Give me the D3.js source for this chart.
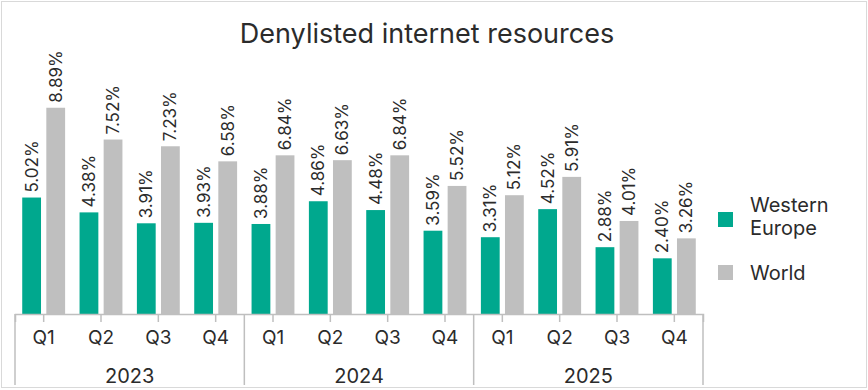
<!DOCTYPE html>
<html lang="en">
<head>
<meta charset="utf-8">
<title>Denylisted internet resources</title>
<script src="https://cdn.jsdelivr.net/npm/d3@7"></script>
<style>
  body { margin: 0; background: #fff; }
  text { font-family: Inter, "Noto Sans", sans-serif; fill: #2b2b2b; }
</style>
</head>
<body>
<script>
// data
var years = ["2023", "2024", "2025"];
var quarters = ["Q1", "Q2", "Q3", "Q4"];
var seriesNames = ["Western Europe", "World"];
var westernEurope = [5.02, 4.38, 3.91, 3.93, 3.88, 4.86, 4.48, 3.59, 3.31, 4.52, 2.88, 2.40];
var world = [8.89, 7.52, 7.23, 6.58, 6.84, 6.63, 6.84, 5.52, 5.12, 5.91, 4.01, 3.26];
var colors = ["#00a88e", "#bfbfbf"];

var W = 868, H = 390;
var svg = d3.select("body").append("svg")
    .attr("width", W)
    .attr("height", H);

// outer frame
svg.append("rect")
    .attr("x", 1.5).attr("y", 1.5)
    .attr("width", W - 3).attr("height", H - 4)
    .attr("fill", "none")
    .attr("stroke", "#d9d9d9");

svg.append("text")
    .attr("x", 427)
    .attr("y", 43)
    .attr("text-anchor", "middle")
    .style("font-size", "27px")
    .text("Denylisted internet resources");

var cats = [];
years.forEach(function(y) {
  quarters.forEach(function(q) { cats.push(y + " " + q); });
});

var rows = cats.map(function(c, i) {
  return { cat: c, q: c.split(" ")[1], vals: [westernEurope[i], world[i]] };
});

var x0 = d3.scaleBand().domain(cats).range([15, 703]);
var x1 = d3.scaleBand().domain([0, 1]).range([0, x0.bandwidth()])
    .paddingInner(0.22).paddingOuter(0.3);
var y = d3.scaleLinear().domain([0, 10]).range([314, 82]);

var g = svg.selectAll("g.cat")
  .data(rows)
  .enter().append("g")
    .attr("class", "cat")
    .attr("transform", function(d) { return "translate(" + x0(d.cat) + ",0)"; });

g.selectAll("rect")
  .data(function(d) { return d.vals; })
  .enter().append("rect")
    .attr("x", function(d, i) { return x1(i); })
    .attr("y", function(d) { return y(d); })
    .attr("width", x1.bandwidth())
    .attr("height", function(d) { return y(0) - y(d); })
    .attr("fill", function(d, i) { return colors[i]; });

g.selectAll("text.val")
  .data(function(d) { return d.vals; })
  .enter().append("text")
    .attr("class", "val")
    .attr("transform", function(d, i) {
      return "translate(" + (x1(i) + x1.bandwidth() / 2) + "," + (y(d) - 5) + ") rotate(-90)";
    })
    .attr("dy", "0.35em")
    .style("font-size", "17px")
    .text(function(d) { return d.toFixed(2) + "%"; });

// axis: quarter ticks at category centres
var xAxis = d3.axisBottom(x0)
    .tickSize(8)
    .tickPadding(6)
    .tickFormat(function(d) { return d.split(" ")[1]; });

var ax = svg.append("g")
    .attr("transform", "translate(0,314)")
    .call(xAxis);
ax.select(".domain").attr("stroke", "#bfbfbf").attr("stroke-width", 1.5);
ax.selectAll(".tick line").attr("stroke", "#bfbfbf").attr("stroke-width", 1.5);
ax.selectAll(".tick text")
    .style("font-size", "19px")
    .style("font-family", "Inter, sans-serif")
    .attr("fill", "#2b2b2b")
    .attr("dy", "0.85em");

// year groups
var yearX = d3.scaleBand().domain(years).range([15, 703]);
svg.selectAll("line.sep")
  .data([15, 703].concat(years.slice(1).map(function(d) { return yearX(d); })))
  .enter().append("line")
    .attr("class", "sep")
    .attr("x1", function(d) { return d; })
    .attr("x2", function(d) { return d; })
    .attr("y1", 314)
    .attr("y2", 385)
    .attr("stroke", "#bfbfbf")
    .attr("stroke-width", 1.5);

svg.selectAll("text.year")
  .data(years)
  .enter().append("text")
    .attr("class", "year")
    .attr("x", function(d) { return yearX(d) + yearX.bandwidth() / 2; })
    .attr("y", 383)
    .attr("text-anchor", "middle")
    .style("font-size", "20px")
    .text(function(d) { return d; });

// legend
var legend = svg.append("g").attr("transform", "translate(718,0)");
var legendY = [212, 265];
legend.selectAll("rect")
  .data(seriesNames)
  .enter().append("rect")
    .attr("x", 0)
    .attr("y", function(d, i) { return legendY[i]; })
    .attr("width", 15)
    .attr("height", 15)
    .attr("fill", function(d, i) { return colors[i]; });

var lt = legend.append("text")
    .attr("x", 32)
    .attr("y", 212)
    .style("font-size", "20px");
lt.append("tspan").attr("x", 32).attr("y", 212).text("Western");
lt.append("tspan").attr("x", 32).attr("y", 235).text("Europe");

legend.append("text")
    .attr("x", 32)
    .attr("y", 280)
    .style("font-size", "20px")
    .text("World");
</script>
</body>
</html>
